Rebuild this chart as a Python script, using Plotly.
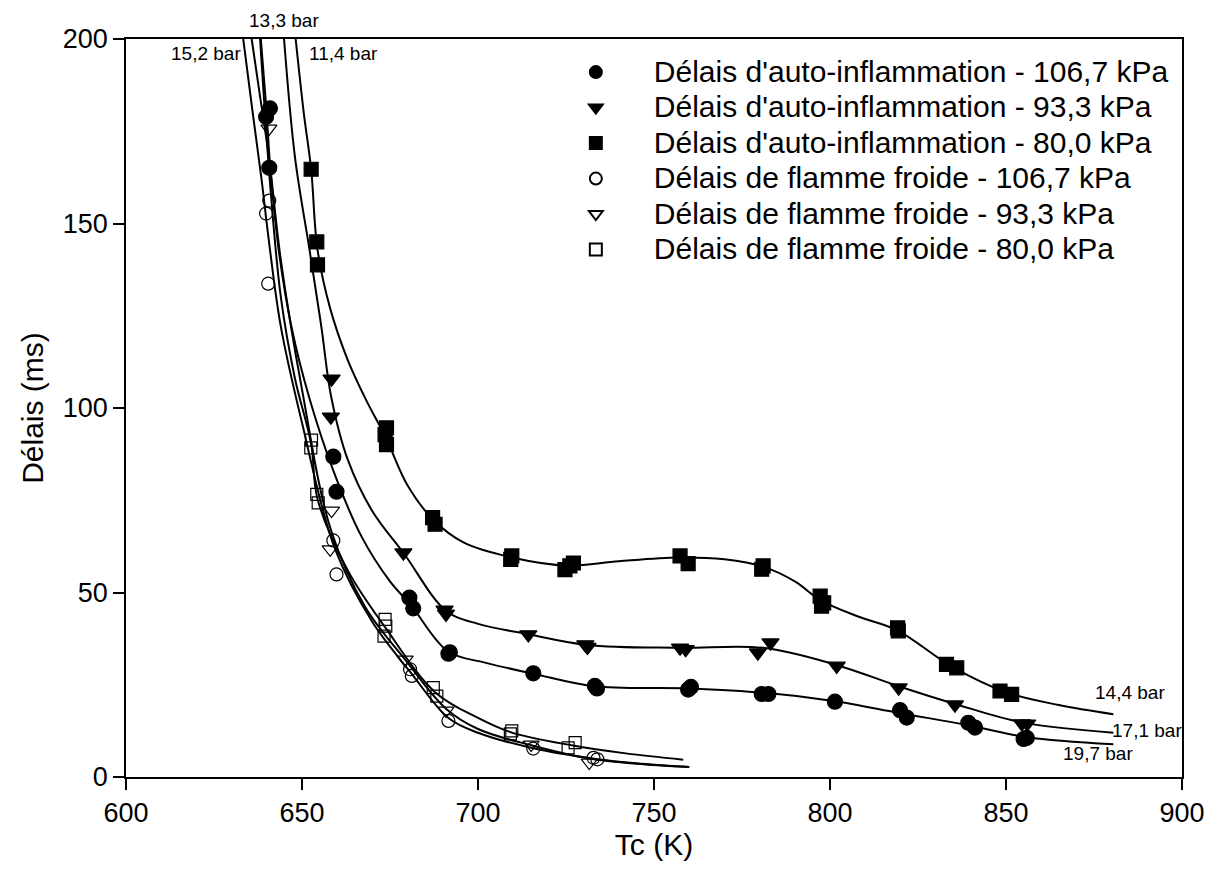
import plotly.graph_objects as go

# ---- Measured ignition delays (Tc in K, delay in ms) ----
# Auto-ignition delays
auto_107_T = [640.9, 639.8, 640.7, 658.9, 659.8, 680.5, 681.6, 691.6, 692.0, 715.7, 733.2, 733.8,
              759.7, 760.5, 780.6, 782.5, 801.4, 819.9, 821.8, 839.3, 841.2, 855.9, 855.0]
auto_107_D = [181.2, 178.9, 165.1, 86.8, 77.3, 48.6, 45.7, 33.4, 33.8, 28.1, 24.7, 24.0,
              23.7, 24.4, 22.5, 22.5, 20.4, 18.1, 16.1, 14.7, 13.4, 10.6, 10.3]

auto_93_T = [658.4, 658.2, 678.8, 690.9, 690.5, 714.3, 731.1, 730.5, 757.4, 759.0, 779.5, 783.1,
             801.9, 819.5, 835.5, 854.5, 856.0]
auto_93_D = [107.9, 97.6, 60.8, 44.2, 45.3, 38.6, 35.2, 35.9, 35.0, 34.6, 33.7, 36.4,
             30.1, 24.2, 19.6, 14.5, 14.4]

auto_80_T = [652.6, 654.2, 654.4, 673.6, 674.0, 674.0, 687.8, 687.1, 709.6, 709.3, 726.1, 727.1,
             724.7, 757.4, 759.7, 781.0, 780.6, 797.2, 797.6, 798.2, 819.4, 819.2, 833.1, 836.0,
             848.3, 851.6]
auto_80_D = [164.7, 145.0, 138.8, 92.8, 94.6, 90.1, 68.5, 70.3, 59.9, 59.0, 57.2, 58.0,
             56.2, 59.9, 57.8, 57.2, 56.3, 49.0, 46.3, 47.2, 39.6, 40.4, 30.5, 29.6,
             23.3, 22.4]

# Cold-flame delays
cold_107_T = [640.4, 640.7, 639.8, 658.9, 659.8, 680.7, 681.2, 691.6, 715.7, 733.9, 732.8]
cold_107_D = [133.7, 156.2, 152.7, 64.1, 54.9, 29.2, 27.4, 15.2, 7.7, 4.8, 5.2]

cold_93_T = [640.6, 658.4, 658.0, 679.3, 690.9, 715.1, 731.6]
cold_93_D = [175.7, 72.2, 61.7, 31.8, 18.0, 8.8, 3.9]

cold_80_T = [652.7, 652.5, 654.2, 654.6, 673.6, 673.8, 673.3, 687.3, 688.3, 709.6, 709.2,
             727.6, 725.6]
cold_80_D = [91.3, 89.2, 76.6, 74.3, 42.7, 40.9, 38.2, 24.2, 21.9, 12.5, 11.7,
             9.3, 7.9]

# ---- Fitted trend curves (nodes of the smooth fits) ----
fit_a107_T = [638.3, 639.8, 641.0, 643.5, 647.0, 652.0, 659.3, 667.0, 675.0, 681.0, 691.5,
              702.0, 715.7, 733.0, 760.0, 781.5, 801.0, 820.0, 840.0, 856.0, 880.5]
fit_a107_D = [200.0, 182.0, 165.0, 142.0, 122.0, 103.0, 82.0, 65.0, 53.0, 46.5, 34.0,
              31.0, 28.0, 24.6, 24.0, 22.8, 20.6, 17.3, 13.9, 10.8, 8.9]

fit_a93_T = [644.9, 648.0, 652.2, 655.5, 658.3, 663.0, 670.0, 679.0, 691.0, 700.0, 714.3,
             731.0, 757.0, 781.0, 802.0, 819.5, 835.5, 854.5, 880.5]
fit_a93_D = [200.0, 168.0, 142.5, 122.0, 103.0, 86.0, 72.0, 60.5, 45.0, 41.5, 38.7,
             35.8, 35.0, 35.0, 30.3, 24.6, 19.8, 14.8, 12.0]

fit_a80_T = [648.2, 650.5, 652.6, 654.4, 658.0, 663.0, 668.3, 673.8, 680.0, 687.5, 696.0,
             709.6, 725.5, 740.0, 757.0, 770.0, 781.0, 790.0, 797.5, 808.0, 819.0, 834.5,
             850.0, 865.0, 880.5]
fit_a80_D = [200.0, 180.0, 164.7, 143.0, 127.0, 113.0, 102.0, 92.0, 79.0, 69.5, 63.5,
             59.5, 57.3, 58.5, 59.5, 59.0, 57.0, 53.0, 47.8, 43.5, 39.8, 30.0,
             23.0, 19.5, 17.0]

fit_c107_T = [633.3, 636.0, 638.5, 640.5, 644.0, 650.0, 659.3, 670.0, 680.9, 691.6, 700.0,
              715.7, 733.5, 745.0, 760.0]
fit_c107_D = [200.0, 180.0, 162.0, 146.0, 122.0, 96.0, 62.0, 42.0, 28.3, 16.0, 12.0,
              7.8, 4.9, 3.7, 2.7]

fit_c93_T = [635.7, 638.0, 640.6, 644.0, 650.0, 658.2, 668.0, 679.3, 690.9, 700.0, 715.1,
             731.6, 745.0, 760.0]
fit_c93_D = [200.0, 185.0, 168.0, 140.0, 105.0, 67.0, 46.0, 31.8, 18.5, 13.0, 8.6,
             5.0, 3.6, 2.7]

fit_c80_T = [638.1, 641.0, 644.0, 648.0, 652.6, 654.4, 663.0, 673.6, 687.8, 700.0, 709.4,
             726.6, 742.0, 758.3]
fit_c80_D = [200.0, 160.0, 130.0, 108.0, 90.2, 75.4, 56.0, 40.6, 23.0, 16.0, 12.1,
             8.6, 6.4, 4.7]

# Pressure labels on the curves
press_labels = ["15,2 bar", "11,4 bar", "14,4 bar", "17,1 bar", "19,7 bar"]
press_T = [622.7, 661.9, 885.2, 890.1, 876.1]
press_D = [196.2, 196.2, 22.8, 12.7, 6.5]
top_label = "13,3 bar"
top_label_T = 644.9

legend_names = [
    "Délais d'auto-inflammation - 106,7 kPa",
    "Délais d'auto-inflammation - 93,3 kPa",
    "Délais d'auto-inflammation - 80,0 kPa",
    "Délais de flamme froide - 106,7 kPa",
    "Délais de flamme froide - 93,3 kPa",
    "Délais de flamme froide - 80,0 kPa",
]

FONT = "Arial, 'Liberation Sans', sans-serif"
fig = go.Figure()

# fitted curves (drawn first, under the markers)
for fx, fy in [(fit_a107_T, fit_a107_D), (fit_a93_T, fit_a93_D), (fit_a80_T, fit_a80_D),
               (fit_c107_T, fit_c107_D), (fit_c93_T, fit_c93_D), (fit_c80_T, fit_c80_D)]:
    fig.add_trace(go.Scatter(x=fx, y=fy, mode="lines", showlegend=False, hoverinfo="skip",
                             line=dict(color="black", width=2, shape="spline", smoothing=1.0)))

series = [
    (auto_107_T, auto_107_D, "circle", 15),
    (auto_93_T, auto_93_D, "triangle-down", 15),
    (auto_80_T, auto_80_D, "square", 14),
    (cold_107_T, cold_107_D, "circle-open", 13),
    (cold_93_T, cold_93_D, "triangle-down-open", 14),
    (cold_80_T, cold_80_D, "square-open", 12),
]
for (sx, sy, sym, sz), name in zip(series, legend_names):
    fig.add_trace(go.Scatter(
        x=sx, y=sy, mode="markers",
        name="<span style='font-size:30px'>" + name + "</span>",
        marker=dict(symbol=sym, size=sz, color="black",
                    line=dict(color="black", width=1.2)),
        cliponaxis=True,
    ))

for txt, tx, ty in zip(press_labels, press_T, press_D):
    fig.add_annotation(x=tx, y=ty, text=txt, showarrow=False, yanchor="middle",
                       font=dict(family=FONT, size=19, color="black"))
fig.add_annotation(x=top_label_T, y=1.0257, xref="x", yref="paper", text=top_label,
                   showarrow=False, yanchor="middle",
                   font=dict(family=FONT, size=19, color="black"))

axis_common = dict(showline=True, linecolor="black", linewidth=1.5, mirror=True,
                   ticks="outside", ticklen=11, tickwidth=1.5, tickcolor="black",
                   showgrid=False, zeroline=False,
                   tickfont=dict(family=FONT, size=27, color="black"))

fig.update_xaxes(range=[600, 900], tickvals=[600, 650, 700, 750, 800, 850, 900],
                 title=dict(text="Tc (K)", font=dict(family=FONT, size=30, color="black"),
                            standoff=4),
                 **axis_common)
fig.update_yaxes(range=[0, 200], tickvals=[0, 50, 100, 150, 200],
                 title=dict(text="Délais (ms)", font=dict(family=FONT, size=30, color="black"),
                            standoff=10),
                 **axis_common)

fig.update_layout(
    width=1218, height=877,
    margin=dict(l=126, r=36, t=39, b=100),
    plot_bgcolor="white", paper_bgcolor="white",
    font=dict(family=FONT, color="black"),
    legend=dict(x=0.39, y=0.986, xanchor="left", yanchor="top",
                bgcolor="rgba(0,0,0,0)", borderwidth=0,
                font=dict(family=FONT, size=25, color="black"),
                itemwidth=106, itemsizing="constant", tracegroupgap=0),
)

fig.write_html("out.html")
